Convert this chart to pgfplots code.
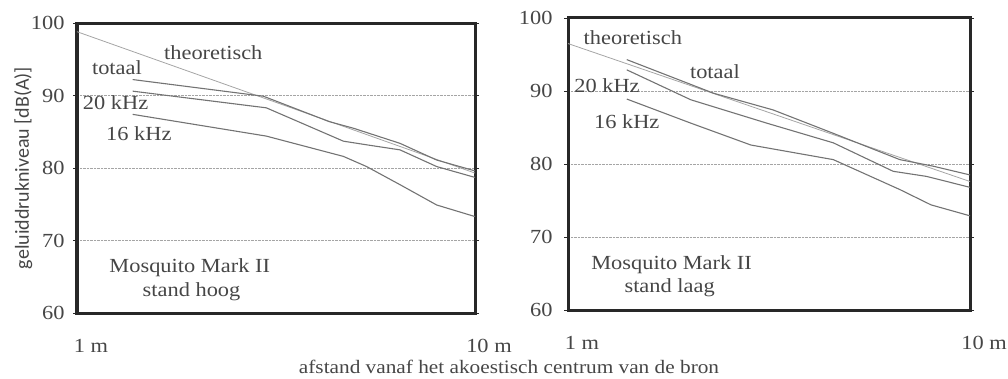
\documentclass[border=0pt]{standalone}
\usepackage{pgfplots}
\pgfplotsset{compat=1.18}
\usepackage{fontspec}
\setmainfont[FakeStretch=1.12]{Liberation Serif}
\newfontfamily\labelfont{Carlito}
\definecolor{txt}{RGB}{70,70,70}
\definecolor{ln}{RGB}{115,115,115}
\definecolor{th}{RGB}{165,165,165}
\definecolor{gr}{RGB}{165,165,165}
\definecolor{boxc}{RGB}{40,40,40}
\newcommand{\tf}{\fontsize{20}{22}\selectfont}
\pgfplotsset{
  myaxis/.style={
  scale only axis, xmin=1, xmax=10, ymin=60, ymax=100,
  ytick={60,70,80,90,100}, xtick={1,10}, xticklabels={1 m,10 m},
  xminorticks=false, yminorticks=false,
  axis line style={boxc, line width=3pt},
  ymajorgrids, grid style={gr, densely dotted, line width=0.9pt},
  xtick style={draw=none}, ytick style={boxc, line width=0.8pt},
  tick align=outside, major tick length=4pt,
  /pgf/number format/assume math mode=true,
  xticklabel style={anchor=north, yshift=-19pt, xshift=14pt, font=\tf, text=txt},
  yticklabel style={font=\tf, text=txt, xshift=-5pt},
  cycle list={{ln, line width=1.1pt}},
  clip=false}
}
\begin{document}
\begin{tikzpicture}
\path[use as bounding box] (0,0) rectangle (1008pt,-379pt);
\begin{axis}[xmode=log, myaxis, at={(77pt,-313pt)}, anchor=south west, width=398pt, height=290pt,
  ylabel={geluiddrukniveau [dB(A)]},
  ylabel style={font=\labelfont\fontsize{20}{22}\selectfont, text=txt, at={(axis description cs:-0.135,0.5)}, anchor=center}]
\addplot[th, line width=0.8pt] coordinates {(1,98.8) (10,79.3)};
\addplot[ln, line width=1.1pt] coordinates {(1.38,92.2) (2.94,89.9) (4.3,86.4) (4.94,85.5) (6.48,83.4) (8.01,81.1) (10,79.6)};
\addplot[ln, line width=1.1pt] coordinates {(1.38,90.6) (2.99,88.3) (4.67,83.7) (5.34,83.2) (6.48,82.5) (8.01,80.2) (10,78.7)};
\addplot[ln, line width=1.1pt] coordinates {(1.38,87.4) (2.99,84.4) (4.67,81.6) (5.34,80.2) (6.48,77.7) (8.01,74.9) (10,73.3)};
\node[font=\tf, text=txt] at (axis cs:2.2,95.9) {theoretisch};
\node[font=\tf, text=txt] at (axis cs:1.26,93.8) {totaal};
\node[font=\tf, text=txt] at (axis cs:1.25,89) {20 kHz};
\node[font=\tf, text=txt] at (axis cs:1.43,84.8) {16 kHz};
\node[font=\tf, text=txt] at (axis cs:1.92,66.3) {Mosquito Mark II};
\node[font=\tf, text=txt] at (axis cs:1.94,62.9) {stand hoog};
\end{axis}
\begin{axis}[xmode=log, myaxis, at={(568pt,-310pt)}, anchor=south west, width=402pt, height=292pt,
  yticklabel style={xshift=-3pt}]
\addplot[th, line width=0.8pt] coordinates {(1,96.5) (10,77.6)};
\addplot[ln, line width=1.1pt] coordinates {(1.40,94.3) (2.30,89.7) (3.24,87.4) (4.57,84.2) (6.69,80.6) (8.1,79.7) (10,78.5)};
\addplot[ln, line width=1.1pt] coordinates {(1.40,92.9) (2.02,88.8) (3.12,85.6) (4.57,82.9) (6.44,79.0) (7.8,78.3) (10,76.8)};
\addplot[ln, line width=1.1pt] coordinates {(1.40,88.9) (2.02,85.6) (2.85,82.6) (4.57,80.6) (6.69,76.5) (8.0,74.4) (10,72.9)};
\node[font=\tf, text=txt] at (axis cs:1.45,97.3) {theoretisch};
\node[font=\tf, text=txt] at (axis cs:2.32,92.6) {totaal};
\node[font=\tf, text=txt] at (axis cs:1.25,90.8) {20 kHz};
\node[font=\tf, text=txt] at (axis cs:1.40,85.8) {16 kHz};
\node[font=\tf, text=txt] at (axis cs:1.81,66.2) {Mosquito Mark II};
\node[font=\tf, text=txt] at (axis cs:1.79,63) {stand laag};
\end{axis}
\node[font=\fontsize{19}{21}\selectfont, text=txt] at (509pt,-367pt) {afstand vanaf het akoestisch centrum van de bron};
\end{tikzpicture}
\end{document}
